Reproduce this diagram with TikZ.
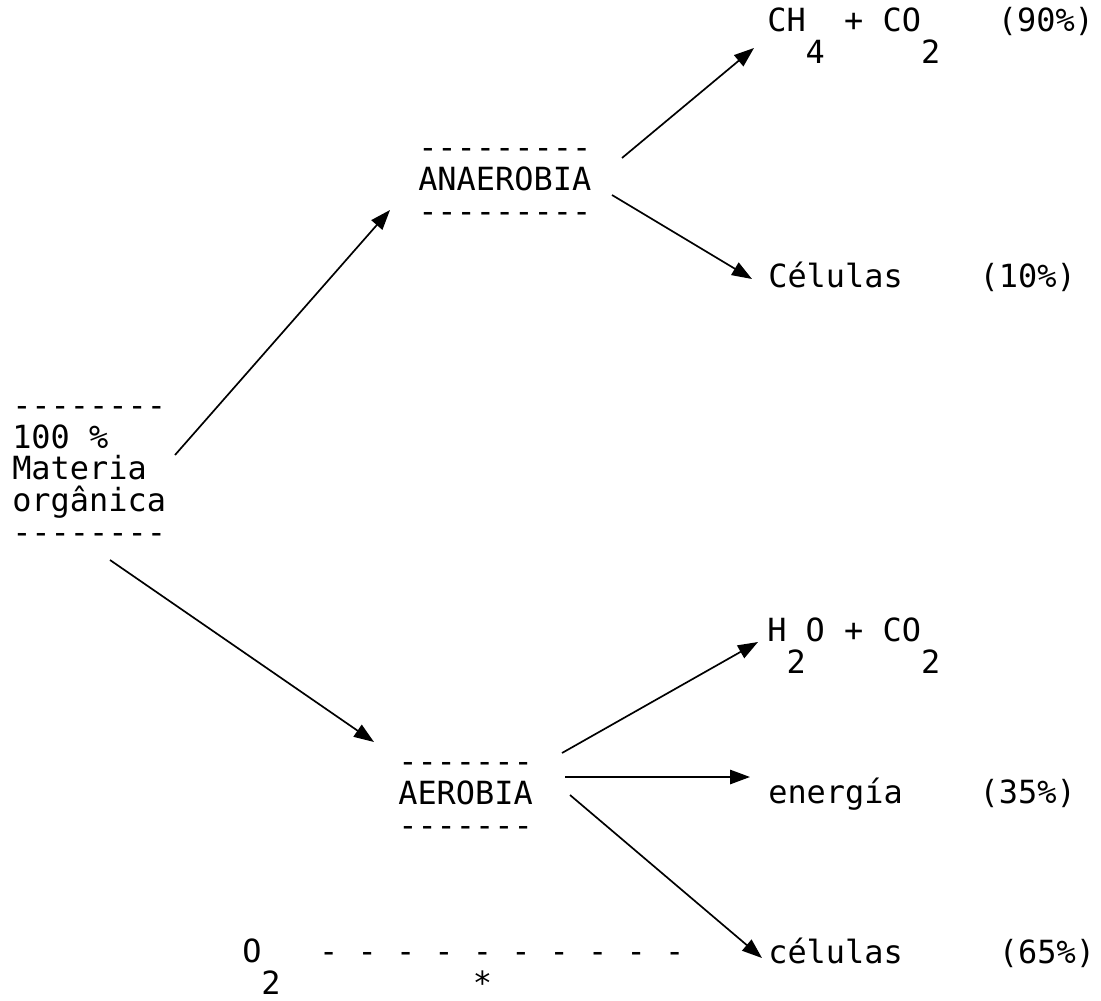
\documentclass[tikz,border=0pt]{standalone}
\usepackage{fontspec}
\setmainfont{DejaVu Sans Mono}[Ligatures=TeXOff]
\usetikzlibrary{arrows.meta, positioning}

\begin{document}
\begin{tikzpicture}[x=0.025cm, y=-0.025cm,
    txt/.style={anchor=base west, inner sep=0pt, align=left,
        font=\fontsize{22.7pt}{22.5pt}\selectfont},
    arr/.style={line width=1.2pt, -{Triangle[length=0.5cm, width=0.36cm]}}]
        % page frame
        \useasboundingbox (0,0) rectangle (1101,1001);
        % texts as printed (placed at the baseline of their last line)
        \node[txt] (mat) at (12,543) {--------\\100~\%\\Materia\\orgânica\\--------};
        \node[txt] (ana) at (418,222) {---------\\ANAEROBIA\\---------};
        \node[txt] (aer) at (398,836) {-------\\AEROBIA\\-------};
        \node[txt] (ch4) at (767,63) {CH~~+~CO~~~~(90\%)\\~~4~~~~~2};
        \node[txt] (cel) at (768,287) {Células~~~~(10\%)};
        \node[txt] (h2o) at (767,673) {H~O~+~CO\\~2~~~~~~2};
        \node[txt] (ene) at (768,803) {energía~~~~(35\%)};
        \node[txt] (cels) at (768,963) {células~~~~~(65\%)};
        \node[txt] (oxy) at (242,994) {O~~~-~-~-~-~-~-~-~-~-~-\\~2~~~~~~~~~~*};

        \draw[arr] ([shift={(163,-88)}]mat.base west) -- ([shift={(-28,-12)}]ana.base west);
        \draw[arr] ([shift={(98,17)}]mat.base west) -- ([shift={(-24,-94)}]aer.base west);
        \draw[arr] ([shift={(204,-64)}]ana.base west) -- ([shift={(-13,-15)}]ch4.base west);
        \draw[arr] ([shift={(194,-27)}]ana.base west) -- ([shift={(-16,-8)}]cel.base west);
        \draw[arr] ([shift={(164,-83)}]aer.base west) -- ([shift={(-9,-31)}]h2o.base west);
        \draw[arr] ([shift={(167,-59)}]aer.base west) -- ([shift={(-18,-26)}]ene.base west);
        \draw[arr] ([shift={(172,-41)}]aer.base west) -- ([shift={(-6,-5)}]cels.base west);
    \end{tikzpicture}
\end{document}
